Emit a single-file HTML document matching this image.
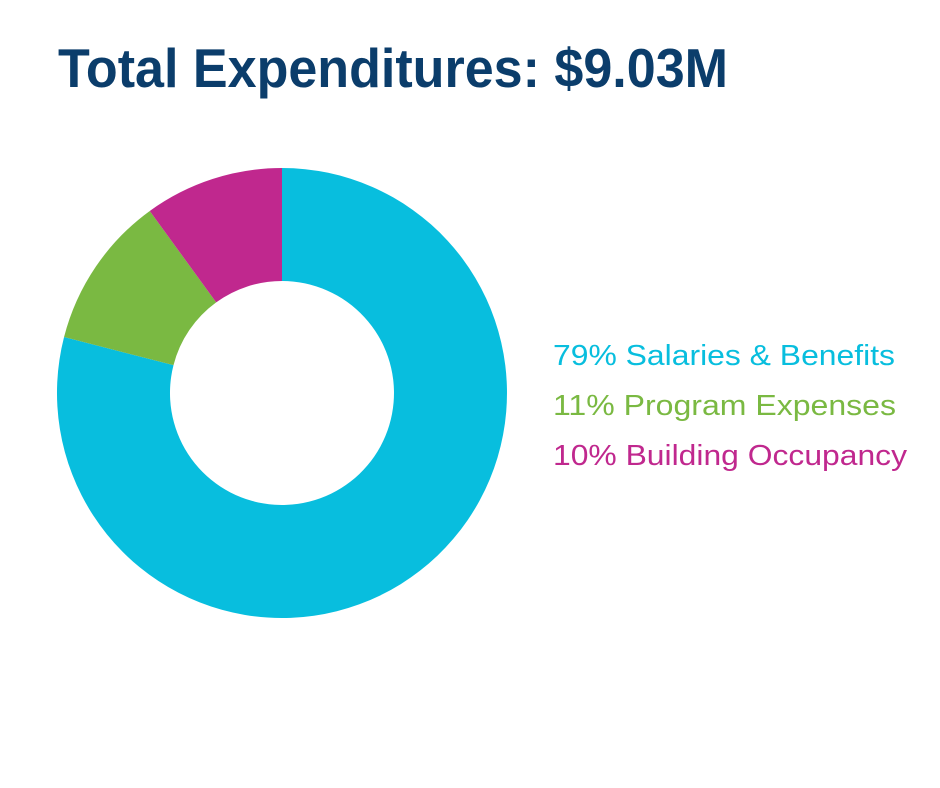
<!DOCTYPE html>
<html><head><meta charset="utf-8"><style>html,body{margin:0;padding:0;background:#fff}svg{display:block}</style></head>
<body>
<svg width="940" height="788" viewBox="0 0 940 788" xmlns="http://www.w3.org/2000/svg" font-family="Liberation Sans, Arial, sans-serif">
<text x="58" y="87" font-size="55" font-weight="bold" fill="#0b3d6b" textLength="670" lengthAdjust="spacingAndGlyphs">Total Expenditures: $9.03M</text>
<g transform="translate(282,393)">
<path d="M0,-225 A225,225 0 1 1 -217.94,-55.96 L-108.49,-27.86 A112,112 0 1 0 0,-112 Z" fill="#08bede"/>
<path d="M-217.94,-55.96 A225,225 0 0 1 -132.25,-182.03 L-65.83,-90.61 A112,112 0 0 0 -108.49,-27.86 Z" fill="#7ab942"/>
<path d="M-132.25,-182.03 A225,225 0 0 1 0,-225 L0,-112 A112,112 0 0 0 -65.83,-90.61 Z" fill="#c0288e"/>
</g>
<text x="553" y="365" font-size="29" fill="#08bede" textLength="342" lengthAdjust="spacingAndGlyphs">79% Salaries &amp; Benefits</text>
<text x="553" y="415" font-size="29" fill="#7ab942" textLength="343" lengthAdjust="spacingAndGlyphs">11% Program Expenses</text>
<text x="553" y="465" font-size="29" fill="#c0288e" textLength="354" lengthAdjust="spacingAndGlyphs">10% Building Occupancy</text>
</svg>
</body></html>
